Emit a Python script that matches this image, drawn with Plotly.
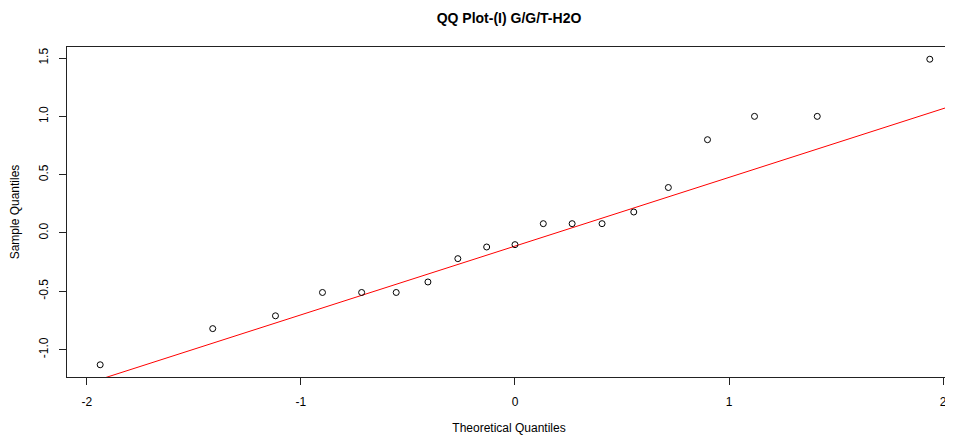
import numpy as np
import plotly.graph_objects as go
from statistics import NormalDist

# Sample values (sorted)
sample = [-1.13, -0.82, -0.71, -0.51, -0.51, -0.51, -0.42, -0.22, -0.12, -0.10,
          0.08, 0.08, 0.08, 0.18, 0.39, 0.80, 1.00, 1.00, 1.49]
x_ticks = [-2, -1, 0, 1, 2]
y_ticks = [-1.0, -0.5, 0.0, 0.5, 1.0, 1.5]
y_tick_labels = ["-1.0", "-0.5", "0.0", "0.5", "1.0", "1.5"]

n = len(sample)
nd = NormalDist()
a = 0.375 if n <= 10 else 0.5
theo = [nd.inv_cdf((i + 1 - a) / (n + 1 - 2 * a)) for i in range(n)]

# qqline through the quartiles (R style)
yq = np.quantile(sample, [0.25, 0.75])
xq = [nd.inv_cdf(0.25), nd.inv_cdf(0.75)]
slope = (yq[1] - yq[0]) / (xq[1] - xq[0])
intercept = yq[0] - slope * xq[0]

xr = max(theo) - min(theo)
yr = max(sample) - min(sample)
x_range = [min(theo) - 0.04 * xr, 2.037]
y_range = [min(sample) - 0.04 * yr, max(sample) + 0.04 * yr]

line_x = [x_range[0] - 1, x_range[1] + 1]
line_y = [intercept + slope * v for v in line_x]

font = "Liberation Sans, Arial, sans-serif"

# page body has an 8px margin, so the figure is 8px smaller than the window
W, H = 945, 431

fig = go.Figure()
fig.add_trace(go.Scatter(x=line_x, y=line_y, mode="lines",
                         line=dict(color="#ff0000", width=1), hoverinfo="skip"))
fig.add_trace(go.Scatter(x=theo, y=sample, mode="markers",
                         marker=dict(symbol="circle-open", size=6, color="#000000",
                                     line=dict(width=1, color="#000000"))))

fig.update_layout(
    width=W, height=H,
    margin=dict(l=59, r=2, t=39, b=62, autoexpand=False),
    paper_bgcolor="white", plot_bgcolor="white",
    showlegend=False,
    font=dict(family=font, size=12, color="black"),
    title=dict(text="<b>QQ Plot-(I) G/G/T-H2O</b>", x=0.5, xref="paper",
               y=1 - 10 / H, yref="container", yanchor="middle",
               font=dict(family=font, size=14, color="black")),
)
fig.update_xaxes(range=x_range, showgrid=False, zeroline=False, automargin=False,
                 showline=True, linecolor="#222222", linewidth=1, mirror=True,
                 ticks="outside", ticklen=7, tickcolor="#222222", tickwidth=1,
                 tickvals=x_ticks, ticktext=[str(v) for v in x_ticks],
                 ticklabelstandoff=7,
                 title=dict(text="Theoretical Quantiles",
                            font=dict(family=font, size=12)))
fig.update_yaxes(range=y_range, showgrid=False, zeroline=False, automargin=False,
                 showline=True, linecolor="#222222", linewidth=1, mirror=True,
                 ticks="outside", ticklen=7, tickcolor="#222222", tickwidth=1,
                 tickvals=y_ticks, ticktext=y_tick_labels, tickangle=-90,
                 ticklabelstandoff=6,
                 title=dict(text="Sample Quantiles",
                            font=dict(family=font, size=12)))

fig.write_html("out.html")
